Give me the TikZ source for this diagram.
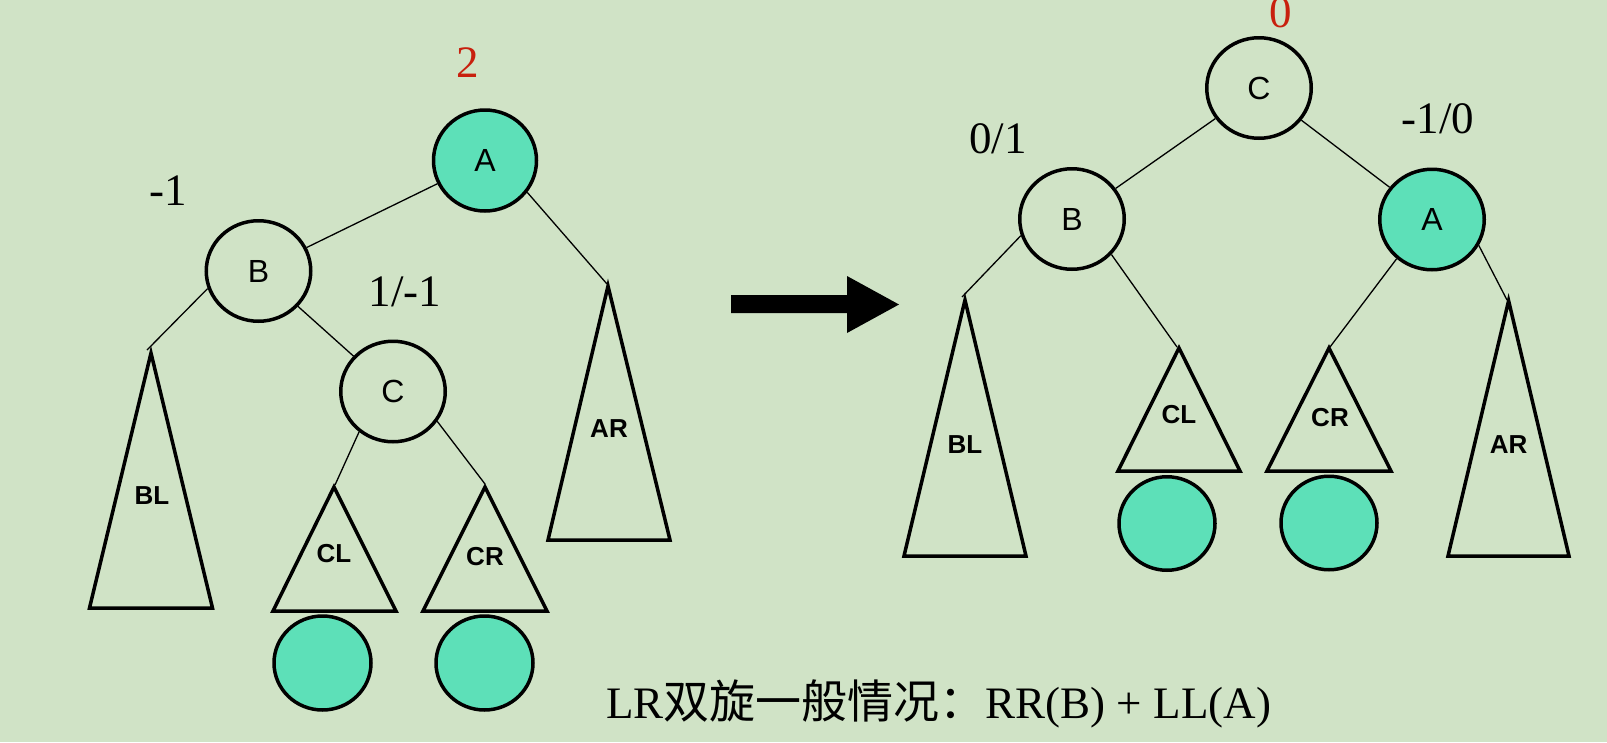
\documentclass[tikz,border=0pt]{standalone}
\usepackage{fontspec}
\setmainfont{Liberation Serif}
\newfontfamily\cjk{Noto Sans CJK SC}
\newfontfamily\arialf{Liberation Sans}
\usetikzlibrary{shapes.geometric}
\definecolor{bgc}{HTML}{D0E3C6}
\definecolor{mint}{HTML}{5DE0B8}
\definecolor{redlab}{HTML}{C8200E}
\begin{document}
\begin{tikzpicture}[x=1pt,y=-1pt,
  nd/.style={ellipse, draw, line width=3.5pt, inner sep=0pt, minimum width=104.5pt, minimum height=100.5pt, font=\arialf\fontsize{32}{32}\selectfont},
  hot/.style={nd, fill=mint},
  leaf/.style={ellipse, draw, line width=3.5pt, fill=mint, inner sep=0pt, minimum width=97pt, minimum height=94pt},
  tri/.style={draw, line width=3.5pt, line join=miter},
  edge/.style={line width=1.3pt},
  bal/.style={anchor=base, inner sep=0pt, font=\fontsize{45}{45}\selectfont},
  tlab/.style={inner sep=0pt, font=\arialf\bfseries\fontsize{26}{26}\selectfont}
]
\fill[bgc] (0,0) rectangle (1607,742);
\useasboundingbox (0,0) rectangle (1607,742);

% ---------- left tree ----------
\node[hot, minimum width=103pt, minimum height=101pt] (A1) at (485,160.5) {A};
\node[nd] (B1) at (258.5,271) {B};
\node[nd] (C1) at (393,391.5) {C};

\coordinate (BL1t) at (151,353);
\draw[tri] (BL1t) -- (89.5,608) -- (212.5,608) -- cycle;
\node[tlab] (BL1) at (152,496) {BL};

\coordinate (CL1t) at (334,487);
\draw[tri] (CL1t) -- (273,611) -- (396,611) -- cycle;
\node[tlab] (CL1) at (334,554) {CL};

\coordinate (CR1t) at (485,487);
\draw[tri] (CR1t) -- (423,611) -- (547,611) -- cycle;
\node[tlab] (CR1) at (485,557) {CR};

\coordinate (AR1t) at (608,286);
\draw[tri] (AR1t) -- (548,540) -- (670,540) -- cycle;
\node[tlab] (AR1) at (609,429) {AR};

\node[leaf] (L1) at (322.5,663) {};
\node[leaf] (L2) at (484.5,663) {};

\coordinate (eBL1) at (147,350);
\coordinate (eCL1) at (335,485);
\coordinate (eCR1) at (485,484);
\coordinate (eAR1) at (607,284);
\draw[edge] (A1) -- (B1);
\draw[edge] (B1) -- (C1);
\draw[edge] (B1.199) -- (eBL1);
\draw[edge] (C1.230) -- (eCL1);
\draw[edge] (C1.-34) -- (eCR1);
\draw[edge] (A1.-37) -- (eAR1);

\node[bal, text=redlab] (bA1) at (468,77) {2};
\node[bal] (bB1) at (168,205) {-1};
\node[bal] (bC1) at (405,306.5) {1/-1};

% ---------- arrow ----------
\fill (731,295) -- (847,295) -- (847,276) -- (899,304.5) -- (847,333) -- (847,313) -- (731,313) -- cycle;

% ---------- right tree ----------
\node[nd] (C2) at (1259,88) {C};
\node[nd] (B2) at (1072,219) {B};
\node[hot] (A2) at (1432,219.5) {A};

\coordinate (BL2t) at (965,300);
\draw[tri] (BL2t) -- (904,556) -- (1026,556) -- cycle;
\node[tlab] (BL2) at (965,445) {BL};

\coordinate (CL2t) at (1179,348);
\draw[tri] (CL2t) -- (1118,471) -- (1240,471) -- cycle;
\node[tlab] (CL2) at (1179,415) {CL};

\coordinate (CR2t) at (1329,348);
\draw[tri] (CR2t) -- (1267,471) -- (1391,471) -- cycle;
\node[tlab] (CR2) at (1330,418) {CR};

\coordinate (AR2t) at (1508.6,300.7);
\draw[tri] (AR2t) -- (1448,556) -- (1569,556) -- cycle;
\node[tlab] (AR2) at (1508.6,445) {AR};

\node[leaf, minimum width=96pt, minimum height=93.5pt] (L3) at (1167,523.5) {};
\node[leaf, minimum width=96pt, minimum height=93.5pt] (L4) at (1329,523) {};

\coordinate (eBL2) at (962,297);
\coordinate (eCL2) at (1177,347);
\coordinate (eCR2) at (1330,347);
\coordinate (eAR2) at (1507,300);
\draw[edge] (C2) -- (B2);
\draw[edge] (C2) -- (A2);
\draw[edge] (B2.198) -- (eBL2);
\draw[edge] (B2.-42) -- (eCL2);
\draw[edge] (A2.228) -- (eCR2);
\draw[edge] (A2.-29) -- (eAR2);

\node[bal, text=redlab] (bC2) at (1281,27) {0};
\node[bal] (bB2) at (998,153) {0/1};
\node[bal] (bA2) at (1438,133) {-1/0};

% ---------- caption ----------
\node[anchor=base west, inner sep=0pt, font=\fontsize{45}{45}\selectfont] (cap) at (606,718)
  {LR{\cjk\fontsize{46}{46}\selectfont 双旋一般情况：}RR(B) + LL(A)};
\end{tikzpicture}
\end{document}
